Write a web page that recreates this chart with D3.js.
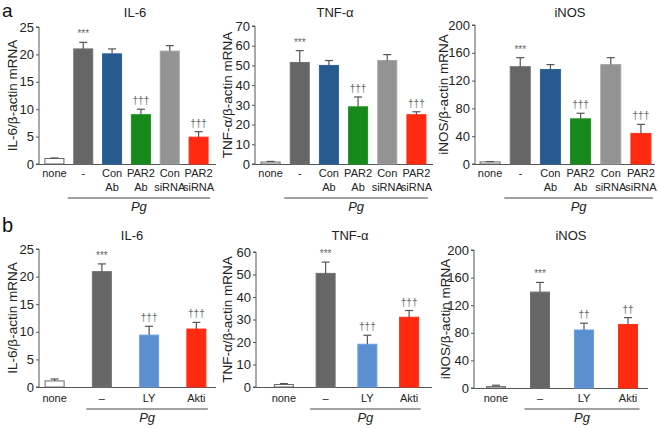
<!DOCTYPE html>
<html><head><meta charset="utf-8">
<script src="https://cdn.jsdelivr.net/npm/d3@7"></script>
<style>body{margin:0;background:#fff}svg{display:block}text{font-family:"Liberation Sans",Arial,sans-serif}</style>
</head><body>
<svg id="c" width="660" height="428"></svg>
<script>
// ---- data ----
const catsA = ["none", "-", "Con|Ab", "PAR2|Ab", "Con|siRNA", "PAR2|siRNA"];
const catsB = ["none", "–", "LY", "Akti"];
const colorsA = ["#ffffff", "#666666", "#275a8e", "#17881b", "#939393", "#ff2a10"];
const colorsB = ["#ffffff", "#666666", "#5b8fcf", "#ff2a10"];

const aIL6 = [1.0, 21.0, 20.1, 9.0, 20.6, 4.9];
const aIL6Err = [0.1, 1.2, 0.9, 1.0, 1.0, 1.0];
const aTNF = [1.0, 51.5, 50.0, 29.0, 52.5, 25.0];
const aTNFErr = [0.3, 6.0, 2.5, 5.0, 3.0, 1.5];
const aINOS = [3, 140, 136, 65, 143, 44];
const aINOSErr = [0.5, 13, 7, 8, 10, 13];
const aMarks = ["", "***", "", "†††", "", "†††"];

const bIL6 = [1.1, 20.9, 9.4, 10.5];
const bIL6Err = [0.35, 1.4, 1.6, 1.2];
const bTNF = [1.1, 50.5, 19.0, 31.0];
const bTNFErr = [0.4, 5.0, 4.0, 3.0];
const bINOS = [2, 139, 84, 92];
const bINOSErr = [2, 14, 10, 10];
const bMarksIL6 = ["", "***", "†††", "†††"];
const bMarksTNF = ["", "***", "†††", "†††"];
const bMarksINOS = ["", "***", "††", "††"];

const ticksIL6 = [0, 5, 10, 15, 20, 25];
const ticksTNFa = [0, 10, 20, 30, 40, 50, 60, 70];
const ticksTNFb = [0, 10, 20, 30, 40, 50, 60];
const ticksINOS = [0, 40, 80, 120, 160, 200];

const svg = d3.select("#c");
const AX = "#555";

function panel(o) {
  const g = svg.append("g");
  const y = d3.scaleLinear().domain([0, o.ticks[o.ticks.length - 1]]).range([o.y0, o.yTop]);
  const x = d3.scaleBand().domain(o.cats).range(o.band);
  const bw = o.bw;
  const off = (x.step() - bw) / 2;

  // axes
  const ya = d3.axisLeft(y).tickValues(o.ticks).tickSize(3).tickPadding(2);
  const yg = g.append("g").attr("transform", `translate(${o.ax},0)`).call(ya);
  yg.select(".domain").attr("stroke", AX).attr("d", `M-3,${y(0)}H0V${o.yTop}H-3`);
  yg.selectAll(".tick line").attr("stroke", AX);
  yg.selectAll(".tick text").attr("font-size", 13).attr("fill", "#222")
    .attr("font-family", "Liberation Sans, Arial, sans-serif");
  g.append("line").attr("x1", o.ax).attr("x2", o.axEnd).attr("y1", y(0) + 0.5).attr("y2", y(0) + 0.5)
    .attr("stroke", AX).attr("stroke-width", 1.2);

  // bars
  o.cats.forEach((c, i) => {
    const bx = x(c) + off;
    const v = o.vals[i], e = o.errs[i];
    g.append("rect").attr("x", bx).attr("y", y(v)).attr("width", bw).attr("height", y(0) - y(v))
      .attr("fill", o.colors[i])
      .attr("stroke", i === 0 ? "#666" : d3.color(o.colors[i]).brighter(0.3))
      .attr("stroke-width", 1);
    const cx = bx + bw / 2;
    g.append("line").attr("x1", cx).attr("x2", cx).attr("y1", y(v)).attr("y2", y(v + e))
      .attr("stroke", "#555").attr("stroke-width", 1.2);
    g.append("line").attr("x1", cx - 4).attr("x2", cx + 4).attr("y1", y(v + e)).attr("y2", y(v + e))
      .attr("stroke", "#555").attr("stroke-width", 1.2);
    if (o.marks[i]) {
      g.append("text").attr("x", cx).attr("y", y(v + e) - 5).attr("text-anchor", "middle")
        .attr("font-family", "DejaVu Sans, sans-serif")
        .attr("font-size", 10).attr("fill", "#666").text(o.marks[i]);
    }
    const lines = c.split("|");
    lines.forEach((t, k) => {
      g.append("text").attr("x", cx).attr("y", o.labY + k * 14).attr("text-anchor", "middle")
        .attr("font-size", 11).attr("fill", "#222").text(t);
    });
  });

  // Pg bracket
  const x1 = x(o.cats[1]) + off - 6, x2 = x(o.cats[o.cats.length - 1]) + off + bw + 2;
  g.append("line").attr("x1", x1).attr("x2", x2).attr("y1", o.pgY).attr("y2", o.pgY)
    .attr("stroke", "#444").attr("stroke-width", 1);
  g.append("text").attr("x", (x1 + x2) / 2).attr("y", o.pgY + 13).attr("text-anchor", "middle")
    .attr("font-size", 13).attr("font-style", "italic").attr("fill", "#222").text("Pg");

  // title
  g.append("text").attr("x", o.titleX).attr("y", o.titleY).attr("text-anchor", "middle")
    .attr("font-size", 13).attr("fill", "#222").text(o.title);
  // y label
  g.append("text").attr("transform", `translate(${o.ylabX},${(o.y0 + o.yTop) / 2}) rotate(-90)`)
    .attr("text-anchor", "middle").attr("font-size", 13.5).attr("fill", "#222").text(o.ylab);
}

// row a
panel({cats: catsA, vals: aIL6, errs: aIL6Err, marks: aMarks, colors: colorsA, ticks: ticksIL6,
  ax: 39, axEnd: 216, y0: 164, yTop: 27, band: [40, 213], bw: 19, labY: 177, pgY: 198,
  title: "IL-6", titleX: 135, titleY: 17, ylab: "IL-6/β-actin mRNA", ylabX: 17});
panel({cats: catsA, vals: aTNF, errs: aTNFErr, marks: aMarks, colors: colorsA, ticks: ticksTNFa,
  ax: 255, axEnd: 433, y0: 164, yTop: 26, band: [256, 431], bw: 19, labY: 177, pgY: 198,
  title: "TNF-α", titleX: 335, titleY: 17, ylab: "TNF-α/β-actin mRNA", ylabX: 232});
panel({cats: catsA, vals: aINOS, errs: aINOSErr, marks: aMarks, colors: colorsA, ticks: ticksINOS,
  ax: 475, axEnd: 655, y0: 164, yTop: 25, band: [475, 656], bw: 20, labY: 177, pgY: 198,
  title: "iNOS", titleX: 570, titleY: 17, ylab: "iNOS/β-actin mRNA", ylabX: 448});

// row b
panel({cats: catsB, vals: bIL6, errs: bIL6Err, marks: bMarksIL6, colors: colorsB, ticks: ticksIL6,
  ax: 39, axEnd: 216, y0: 387, yTop: 249, band: [31, 220], bw: 19, labY: 402, pgY: 409,
  title: "IL-6", titleX: 132, titleY: 240, ylab: "IL-6/β-actin mRNA", ylabX: 17});
panel({cats: catsB, vals: bTNF, errs: bTNFErr, marks: bMarksTNF, colors: colorsB, ticks: ticksTNFb,
  ax: 256, axEnd: 432, y0: 387, yTop: 252, band: [263, 430], bw: 19, labY: 402, pgY: 409,
  title: "TNF-α", titleX: 350, titleY: 240, ylab: "TNF-α/β-actin mRNA", ylabX: 232});
panel({cats: catsB, vals: bINOS, errs: bINOSErr, marks: bMarksINOS, colors: colorsB, ticks: ticksINOS,
  ax: 474, axEnd: 648, y0: 388, yTop: 250, band: [474, 650], bw: 19, labY: 402, pgY: 409,
  title: "iNOS", titleX: 571, titleY: 240, ylab: "iNOS/β-actin mRNA", ylabX: 450});

// panel letters
svg.append("text").attr("x", 2).attr("y", 17).attr("font-size", 19).attr("fill", "#111").text("a");
svg.append("text").attr("x", 2).attr("y", 232).attr("font-size", 20).attr("fill", "#111").text("b");
</script>
</body></html>
